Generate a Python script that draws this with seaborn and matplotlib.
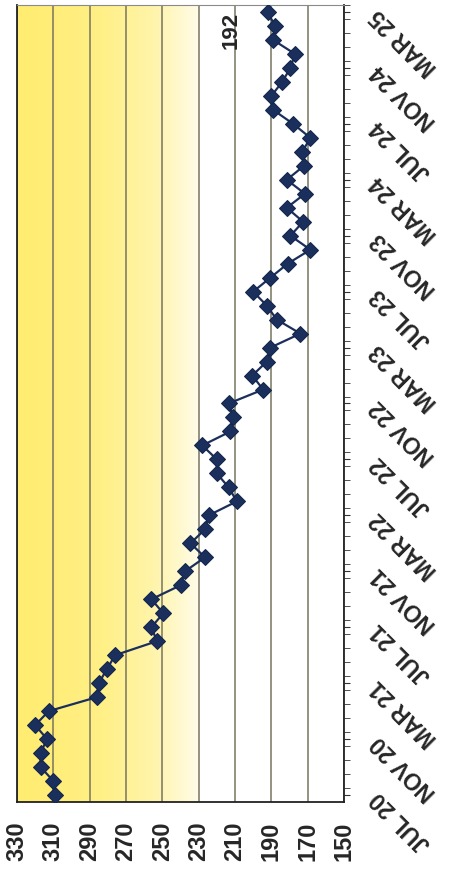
import numpy as np
import pandas as pd
import matplotlib.pyplot as plt
import seaborn as sns
from matplotlib.colors import LinearSegmentedColormap

sns.set_style('white')
plt.rcParams['font.family'] = ['Liberation Sans', 'DejaVu Sans']

# monthly values, JUL 20 -> MAR 25 (bottom to top in the rotated chart)
values = [309, 310, 317, 317, 313.5, 320, 312.5, 286, 285, 280.5,
          276, 253, 256, 249.5, 256, 240, 237.5, 226.5, 234.5, 226.5,
          224.5, 209, 213.5, 220, 220, 228, 212.5, 211, 213.5, 194.5,
          200.5, 192.5, 190.5, 174, 187, 192.5, 200, 190.5, 181, 168.5,
          179.5, 172.5, 181.5, 171.5, 181.5, 172, 173, 168.5, 178, 189,
          190, 184, 179.5, 177, 189, 188, 192]
month_labels = ['JUL 20', 'NOV 20', 'MAR 21', 'JUL 21', 'NOV 21', 'MAR 22',
                'JUL 22', 'NOV 22', 'MAR 23', 'JUL 23', 'NOV 23', 'MAR 24',
                'JUL 24', 'NOV 24', 'MAR 25']
value_ticks = [330, 310, 290, 270, 250, 230, 210, 190, 170, 150]
shade_from, shade_to = 330, 230
last_label = '192'

df = pd.DataFrame({'month': np.arange(len(values)), 'value': values})

fig = plt.figure(figsize=(4.49, 8.71), dpi=100)
ax = fig.add_axes([17 / 449, 1 - 802 / 871, 327 / 449, 797 / 871])

# yellow band, fading out towards 230
cmap = LinearSegmentedColormap.from_list(
    'band', [(0, '#FFEC70'), (0.45, '#FFF085'), (0.75, '#FFF4AA'), (1, '#FFFCE8')])
grad = np.linspace(0, 1, 256).reshape(1, -1)
ax.imshow(grad, cmap=cmap, aspect='auto', zorder=0,
          extent=(shade_from, shade_to, -0.5, len(values) - 0.5))

for v in value_ticks:
    ax.axvline(v, color='#77755f', lw=1.1, zorder=1)

sns.lineplot(data=df, x='value', y='month', orient='y', ax=ax,
             color='#1b2f5c', lw=1.6, marker='D', markersize=8.5,
             markeredgecolor='#13254d', zorder=3)

ax.text(values[-1] + 20, len(values) - 2.3, last_label, rotation=90,
        ha='center', va='center', fontsize=16, fontweight='bold')

ax.set_xlim(330, 150)
ax.set_ylim(-0.5, len(values) - 0.5)
ax.set_xticks(value_ticks)
ax.set_xticklabels([str(v) for v in value_ticks], rotation=90,
                   fontsize=17, fontweight='bold')
ax.set_xlabel('')
ax.set_ylabel('')

ax.yaxis.tick_right()
ax.set_yticks(np.arange(0, len(values), 4))
ax.set_yticklabels(month_labels, rotation=135, rotation_mode='anchor',
                   ha='right', va='center', fontsize=16.5, fontweight='bold')
ax.set_yticks(np.arange(len(values)) + 0.5, minor=True)
ax.tick_params(axis='y', which='both', direction='out', length=4,
               color='#333333', pad=18)
ax.tick_params(axis='x', direction='out', length=5, color='#222222', pad=9)

for side in ['left', 'bottom', 'right']:
    ax.spines[side].set_color('#222222')
    ax.spines[side].set_linewidth(1.3)
ax.spines['top'].set_color('#8a8a8a')

plt.savefig('out.png', dpi=100)
